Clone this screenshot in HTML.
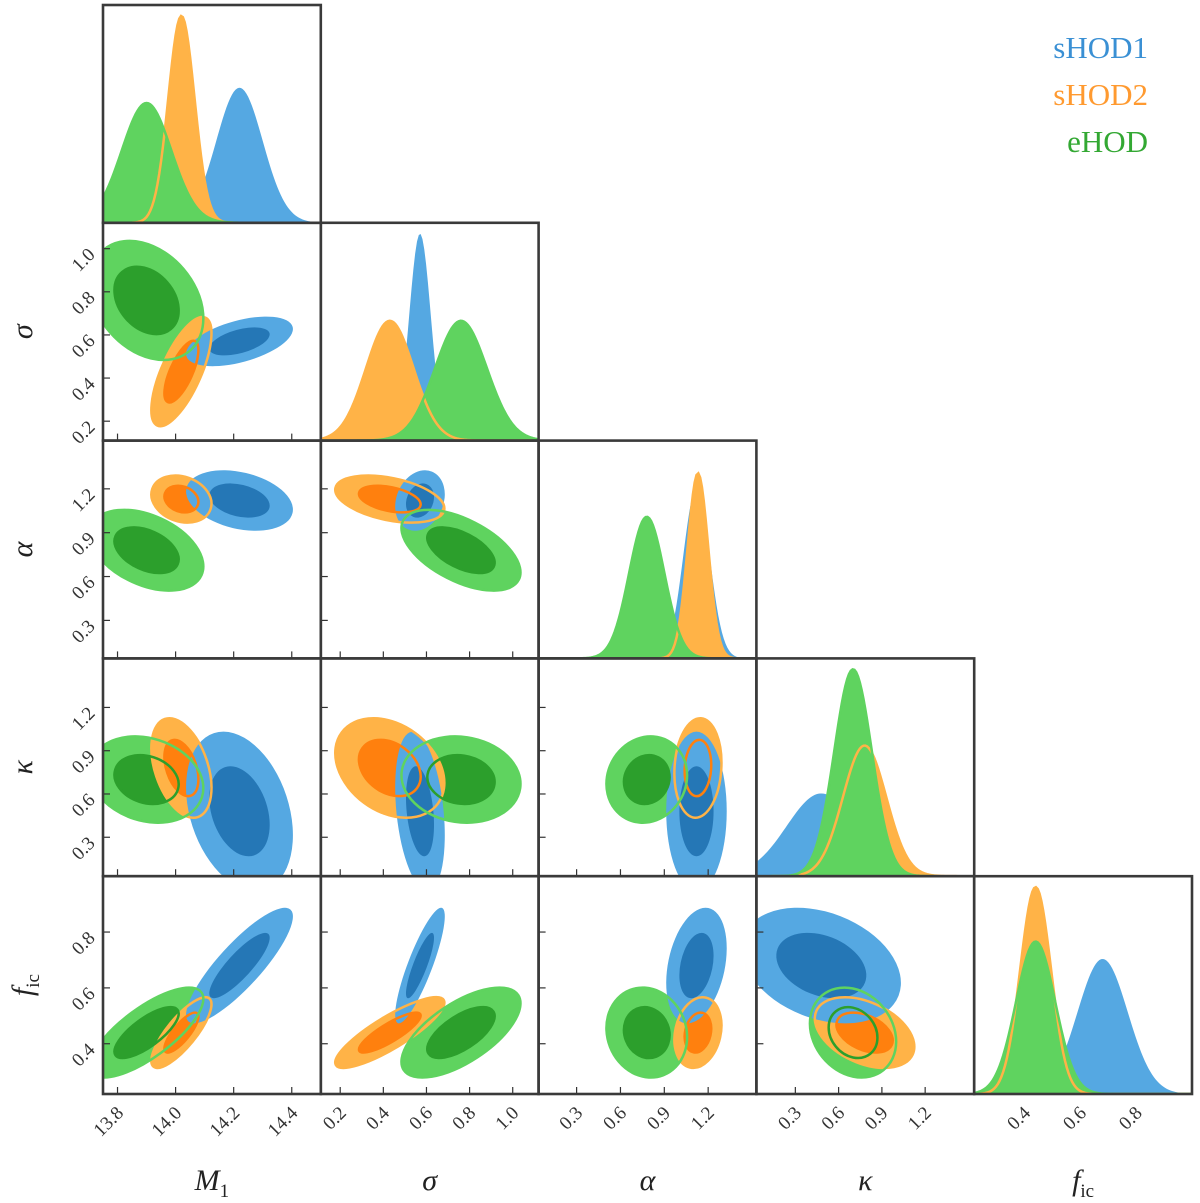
<!DOCTYPE html>
<html><head><meta charset="utf-8"><style>
body{margin:0;background:#fff}
svg{display:block}
text{font-family:"Liberation Serif","DejaVu Serif",serif}
</style></head><body>
<svg id="c" width="1200" height="1203" viewBox="0 0 1200 1203"></svg>
<script>
const paramLabels=['M','σ','α','κ','f'];
const lo=[13.75,0.11,0.04,0.03,0.22];
const hi=[14.5,1.12,1.53,1.54,1.0];
const ticks=[[13.8,14.0,14.2,14.4],[0.2,0.4,0.6,0.8,1.0],[0.3,0.6,0.9,1.2],[0.3,0.6,0.9,1.2],[0.4,0.6,0.8]];
const tickLabels=[['13.8','14.0','14.2','14.4'],['0.2','0.4','0.6','0.8','1.0'],['0.3','0.6','0.9','1.2'],['0.3','0.6','0.9','1.2'],['0.4','0.6','0.8']];
const models=['sHOD1','sHOD2','eHOD'];
const blueMean=[14.22,0.57,1.12,0.48,0.68];
const blueStd=[0.08,0.05,0.09,0.24,0.09];
const orangeMean=[14.02,0.43,1.13,0.78,0.44];
const orangeStd=[0.045,0.11,0.07,0.15,0.055];
const greenMean=[13.9,0.76,0.78,0.7,0.44];
const greenStd=[0.085,0.12,0.12,0.13,0.07];
const bluePeak=[0.62,0.95,0.78,0.38,0.62];
const orangePeak=[0.95,0.55,0.85,0.6,0.95];
const greenPeak=[0.55,0.55,0.65,0.95,0.7];
const blueCorr=[[1,0.5,-0.3,-0.3,0.85],[0.5,1,0.2,-0.3,0.85],[-0.3,0.2,1,0,0.3],[-0.3,-0.3,0,1,-0.3],[0.85,0.85,0.3,-0.3,1]];
const orangeCorr=[[1,0.7,-0.2,-0.4,0.8],[0.7,1,-0.4,-0.3,0.85],[-0.2,-0.4,1,0.1,0.2],[-0.4,-0.3,0.1,1,-0.4],[0.8,0.85,0.2,-0.4,1]];
const greenCorr=[[1,-0.3,-0.4,-0.2,0.75],[-0.3,1,-0.55,-0.1,0.65],[-0.4,-0.55,1,0.1,-0.1],[-0.2,-0.1,0.1,1,-0.2],[0.75,0.65,-0.1,-0.2,1]];

const L=103,T=5,S=217.8,N=5;
const svg=document.getElementById('c');
const NS='http://www.w3.org/2000/svg';
function mk(tag,attrs,parent){const e=document.createElementNS(NS,tag);for(const k in attrs)e.setAttribute(k,attrs[k]);(parent||svg).appendChild(e);return e;}
function xs(p,v,col){return L+col*S+(v-lo[p])/(hi[p]-lo[p])*S;}
function ys(p,v,row){return T+row*S+S-(v-lo[p])/(hi[p]-lo[p])*S;}
const M={
 sHOD1:{mean:blueMean,std:blueStd,peak:bluePeak,corr:blueCorr,light:'#55a8e2',dark:'#2577b6',line:'#55a8e2'},
 sHOD2:{mean:orangeMean,std:orangeStd,peak:orangePeak,corr:orangeCorr,light:'#ffb347',dark:'#ff800e',line:'#ffb347'},
 eHOD:{mean:greenMean,std:greenStd,peak:greenPeak,corr:greenCorr,light:'#5fd35f',dark:'#2c9f2c',line:'#5fd35f'}
};
const defs=mk('defs',{});
for(let r=0;r<N;r++)for(let c=0;c<=r;c++){
  const cp=mk('clipPath',{id:'cl'+r+'_'+c},defs);
  mk('rect',{x:L+c*S,y:T+r*S,width:S,height:S},cp);
}
function ellipse(m,i,j,row,k,attrs,g){
  const d=M[m];const sx=d.std[i]*S/(hi[i]-lo[i]);const sy=d.std[j]*S/(hi[j]-lo[j]);
  const a=sx*sx,cc=sy*sy,b=-d.corr[i][j]*sx*sy;
  const tr=(a+cc)/2,df=Math.sqrt(((a-cc)/2)**2+b*b);
  const l1=tr+df,l2=Math.max(tr-df,1);
  const ang=0.5*Math.atan2(2*b,a-cc)*180/Math.PI;
  const cx=xs(i,d.mean[i],i),cy=ys(j,d.mean[j],row);
  return mk('ellipse',Object.assign({cx:cx,cy:cy,rx:k*Math.sqrt(l1),ry:k*Math.sqrt(l2),transform:`rotate(${ang} ${cx} ${cy})`},attrs),g);
}
function curve(m,p,row){
  const d=M[m];let pts=[];const base=T+row*S+S;
  for(let s=0;s<=120;s++){const v=lo[p]+(hi[p]-lo[p])*s/120;const z=(v-d.mean[p])/d.std[p];
    pts.push([xs(p,v,p),base-d.peak[p]*Math.exp(-0.5*z*z)*S]);}
  return pts;
}
const KO=2.3,KI=1.3;
for(let r=0;r<N;r++)for(let c=0;c<=r;c++){
  const g=mk('g',{'clip-path':`url(#cl${r}_${c})`});
  
  
  if(r===c){
    for(const m of models){const pts=curve(m,c,r);const base=T+r*S+S;
      const pa=mk('path',{d:'M'+pts[0][0]+','+base+'L'+pts.map(p=>p.join(',')).join('L')+'L'+pts[pts.length-1][0]+','+base+'Z',fill:M[m].light},g);
      
      }
    for(const m of ['sHOD2','eHOD']){const pts=curve(m,c,r);
      mk('path',{d:'M'+pts.map(p=>p.join(',')).join('L'),fill:'none',stroke:M[m].line,'stroke-width':2.5},g);}
  }else{
    for(const m of ['eHOD','sHOD2','sHOD1']){
      const o=ellipse(m,c,r,r,KO,{fill:M[m].light},g);
      
      
      const n=ellipse(m,c,r,r,KI,{fill:M[m].dark},g);
      
      
    }
    for(const m of ['sHOD2','eHOD']){
      ellipse(m,c,r,r,KO,{fill:'none',stroke:M[m].line,'stroke-width':2.5},g);
      ellipse(m,c,r,r,KI,{fill:'none',stroke:M[m].dark,'stroke-width':2.5},g);
    }
    ticks[c].forEach(t=>{const x=xs(c,t,c);mk('line',{x1:x,x2:x,y1:T+r*S+S,y2:T+r*S+S-7,stroke:'#333','stroke-width':1.2});});
    ticks[r].forEach(t=>{const y=ys(r,t,r);mk('line',{x1:L+c*S,x2:L+c*S+7,y1:y,y2:y,stroke:'#333','stroke-width':1.2});});
  }
  const fr=mk('rect',{x:L+c*S,y:T+r*S,width:S,height:S,fill:'none',stroke:'#3a3a3a','stroke-width':2.6});
  
  
}
for(let c=0;c<N;c++){ticks[c].forEach((t,k)=>{const x=xs(c,t,c),y=T+N*S+8;
  const tx=mk('text',{x:x+7,y:y+12,'font-size':19,fill:'#333','text-anchor':'end',transform:`rotate(-45 ${x+7} ${y+12})`});
  tx.textContent=tickLabels[c][k];
  
  });}
for(let r=1;r<N;r++){ticks[r].forEach((t,k)=>{const y=ys(r,t,r),x=L-7;
  const tx=mk('text',{x:x,y:y+7,'font-size':19,fill:'#333','text-anchor':'end',transform:`rotate(-45 ${x} ${y+7})`});
  tx.textContent=tickLabels[r][k];
  
  });}
function lab(i,x,y,rot){const t=mk('text',{x:x,y:y,'font-size':30,'font-style':'italic',fill:'#222','text-anchor':'middle',transform:rot?`rotate(-90 ${x} ${y})`:''});
  t.textContent=paramLabels[i];
  if(i===0){const s=mk('tspan',{'font-size':19,'font-style':'normal',dy:7},t);s.textContent='1';}
  if(i===4){const s=mk('tspan',{'font-size':19,'font-style':'normal',dy:7},t);s.textContent='ic';}
  return t;}
for(let c=0;c<N;c++){const t=lab(c,L+c*S+S/2,1190,false);}
for(let r=1;r<N;r++){const t=lab(r,32,T+r*S+S/2,true);}
const legCols=['#3a90d4','#ff9a30','#33a833'];
models.forEach((m,k)=>{const t=mk('text',{x:1148,y:58+k*47,'font-size':31,fill:legCols[k],'text-anchor':'end'});t.textContent=m;
  
  });
</script>
</body></html>
